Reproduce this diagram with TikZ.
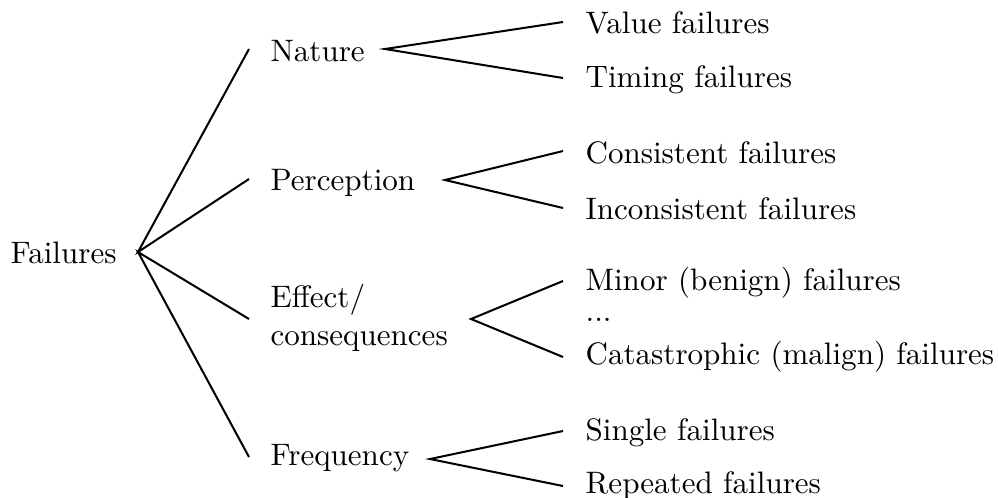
\documentclass[tikz,border=0pt]{standalone}
\begin{document}
\begin{tikzpicture}[x=0.322pt,y=-0.322pt,
  lbl/.style={anchor=base west,inner sep=0pt,font=\fontsize{10}{12}\selectfont},
  branch/.style={line width=0.65pt}]
\useasboundingbox (0,0) rectangle (998,497);

% labels
\node[lbl] (fail) at (10,263) {Failures};
\node[lbl] (nat) at (270,61.5) {Nature};
\node[lbl] (per) at (270,190) {Perception};
\node[lbl,align=left] (eff) at (270,345) {Effect/\\consequences};
\node[lbl] (fre) at (270,465) {Frequency};

\node[lbl] (val) at (585,33) {Value failures};
\node[lbl] (tim) at (585,87) {Timing failures};
\node[lbl] (con) at (585,163) {Consistent failures};
\node[lbl] (inc) at (585,219) {Inconsistent failures};
\node[lbl] (min) at (585,290) {Minor (benign) failures};
\node[lbl] (dots) at (585,321) {...};
\node[lbl] (cat) at (585,364) {Catastrophic (malign) failures};
\node[lbl] (sin) at (585,440) {Single failures};
\node[lbl] (rep) at (585,493) {Repeated failures};

% fork points
\coordinate (root) at (138,252);
\coordinate (natIn) at (249,49);
\coordinate (perIn) at (249,179);
\coordinate (effIn) at (249,319);
\coordinate (freIn) at (249,457);
\coordinate (natOut) at (385,49);
\coordinate (perOut) at (445,180);
\coordinate (effOut) at (471,319);
\coordinate (freOut) at (430,459);
\coordinate (valIn) at (563,22);
\coordinate (timIn) at (563,78);
\coordinate (conIn) at (563,151);
\coordinate (incIn) at (563,208);
\coordinate (minIn) at (563,281);
\coordinate (catIn) at (563,357);
\coordinate (sinIn) at (563,431);
\coordinate (repIn) at (563,486);

% branches
\draw[branch] (natIn) -- (root) -- (perIn);
\draw[branch] (effIn) -- (root) -- (freIn);
\draw[branch] (valIn) -- (natOut) -- (timIn);
\draw[branch] (conIn) -- (perOut) -- (incIn);
\draw[branch] (minIn) -- (effOut) -- (catIn);
\draw[branch] (sinIn) -- (freOut) -- (repIn);
\end{tikzpicture}
\end{document}
